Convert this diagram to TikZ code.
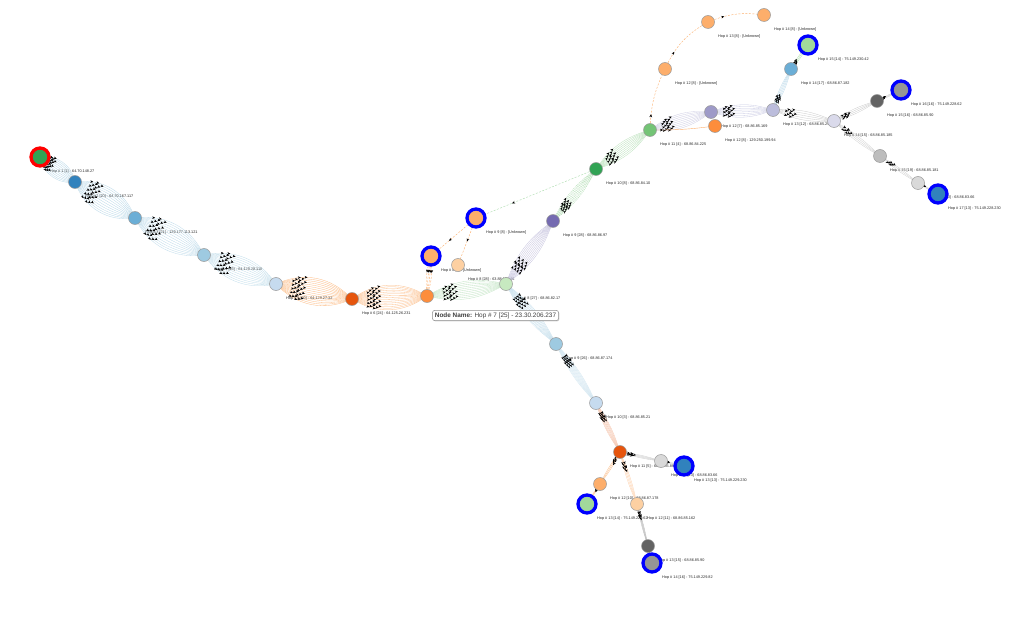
\documentclass[tikz,border=0pt]{standalone}
\usepackage{fontspec}
\setmainfont{Liberation Sans}
\usetikzlibrary{arrows.meta,decorations.markings,shadows}
\pgfdeclarelayer{back}
\pgfdeclarelayer{lab}
\pgfdeclarelayer{bg}
\pgfsetlayers{back,lab,bg,main}
\definecolor{dblue}{HTML}{3182BD}
\definecolor{mblue}{HTML}{6BAED6}
\definecolor{lblue}{HTML}{9ECAE1}
\definecolor{vlblue}{HTML}{C6DBEF}
\definecolor{dorange}{HTML}{E6550D}
\definecolor{morange}{HTML}{FD8D3C}
\definecolor{lorange}{HTML}{FDAE6B}
\definecolor{vlorange}{HTML}{FDD0A2}
\definecolor{dgreen}{HTML}{31A354}
\definecolor{mgreen}{HTML}{74C476}
\definecolor{lgreen}{HTML}{A1D99B}
\definecolor{vlgreen}{HTML}{C7E9C0}
\definecolor{dpurple}{HTML}{756BB1}
\definecolor{mpurple}{HTML}{9E9AC8}
\definecolor{lpurple}{HTML}{BCBDDC}
\definecolor{vlpurple}{HTML}{DADAEB}
\definecolor{dgray}{HTML}{636363}
\definecolor{mgray}{HTML}{969696}
\definecolor{lgray}{HTML}{BDBDBD}
\definecolor{vlgray}{HTML}{D9D9D9}
\definecolor{ringblue}{HTML}{0000FF}
\definecolor{ringred}{HTML}{FF0000}
\tikzset{
  hop/.style={circle, draw=black!40, line width=0.5pt, minimum size=13pt, inner sep=0pt},
  rng/.style={circle, draw=ringblue, line width=3.3pt, minimum size=18pt, inner sep=0pt},
  rngred/.style={circle, draw=ringred, line width=3.3pt, minimum size=18pt, inner sep=0pt},
  lbl/.style={font=\fontsize{3.8}{4.5}\selectfont, text=black!85, anchor=west, inner sep=0pt},
  bund/.style 2 args={line width=0.3pt, postaction={decorate},
    decoration={markings,
      mark=at position #1 with {\arrow{Stealth[length=2.9pt,width=2.5pt,color=black]}},
      mark=at position #2 with {\arrow{Stealth[length=2.9pt,width=2.5pt,color=black]}}}},
  onetip/.style={postaction={decorate},
    decoration={markings,
      mark=at position #1 with {\arrow{Stealth[length=3pt,width=2.6pt,color=black]}}}},
  dsh/.style={line width=0.4pt, dash pattern=on 2pt off 1.5pt},
  tipbox/.style={draw=black!45, fill=white, rounded corners=2.5pt, line width=0.5pt,
    drop shadow={shadow xshift=0.8pt, shadow yshift=-0.8pt, opacity=0.35},
    font=\fontsize{6.4}{7}\selectfont, text=black!75, inner xsep=2.5pt, inner ysep=2.2pt}
}
\newcommand\edgeb[6][]{%
  \foreach \i in {0,...,#6}{%
    \pgfmathsetmacro\ang{-#5+2*#5*\i/#6}%
    \pgfmathsetmacro\pa{0.24+0.035*mod(\i,3)}%
    \pgfmathsetmacro\pb{\pa+0.08}%
    \draw[bund={\pa}{\pb}, draw=#4, #1] (#2.center) to[bend left=\ang] (#3.center);
  }}
\newcommand\hn[5]{%
  \node[#4] (#1) at (#2,#3) {};
  \begin{pgfonlayer}{lab}
  \node[lbl] (#1l) at ({#2+10},{#3+15}) {#5};
  \end{pgfonlayer}}
\begin{document}
\begin{tikzpicture}[x=1pt,y=-1pt]
\begin{pgfonlayer}{back}
\fill[white] (0,0) rectangle (1024,628);
\end{pgfonlayer}
\useasboundingbox (0,0) rectangle (1024,628);
% chain A
\hn{n1}{40}{157}{rngred, fill=dgreen}{Hop \# 1 [1] - 64.70.148.27}
\hn{n2}{75}{182}{hop, fill=dblue}{Hop \# 2 [20] - 64.70.167.117}
\hn{n3}{135}{218}{hop, fill=mblue}{Hop \# 3 [21] - 129.177.113.121}
\hn{n4}{204}{255}{hop, fill=lblue}{Hop \# 4 [23] - 64.129.28.110}
\hn{n5}{276}{284}{hop, fill=vlblue}{Hop \# 5 [20] - 64.129.27.32}
\hn{n6}{352}{299}{hop, fill=dorange}{Hop \# 6 [24] - 64.125.26.231}
\node[hop, fill=morange] (n7) at (427,296) {};
% middle
\hn{u8}{431}{256}{rng, fill=lorange}{Hop \# 8 [8] - [Unknown]}
\hn{u9}{476}{218}{rng, fill=lorange}{Hop \# 9 [8] - [Unknown]}
\hn{g8}{506}{284}{hop, fill=vlgreen}{Hop \# 8 [27] - 68.86.82.17}
\hn{pe8}{458}{265}{hop, fill=vlorange}{Hop \# 8 [28] - 63.88.128.46}
\hn{p9}{553}{221}{hop, fill=dpurple}{Hop \# 9 [28] - 68.86.86.97}
\hn{g10}{596}{169}{hop, fill=dgreen}{Hop \# 10 [8] - 68.86.84.10}
\hn{g11}{650}{130}{hop, fill=mgreen}{Hop \# 11 [4] - 68.86.84.225}
\hn{p12}{711}{112}{hop, fill=mpurple}{Hop \# 12 [7] - 68.86.85.169}
\hn{o12}{715}{126}{hop, fill=morange}{Hop \# 12 [8] - 129.250.199.94}
\hn{l13}{773}{110}{hop, fill=lpurple}{Hop \# 13 [12] - 68.86.85.253}
\hn{b14}{791}{69}{hop, fill=mblue}{Hop \# 14 [17] - 68.86.87.182}
\hn{rg15}{808}{45}{rng, fill=lgreen}{Hop \# 15 [14] - 75.149.230.42}
\hn{v14}{834}{121}{hop, fill=vlpurple}{Hop \# 14 [15] - 68.86.85.185}
\hn{dg15}{877}{101}{hop, fill=dgray}{Hop \# 15 [16] - 68.86.85.90}
\hn{gy16}{901}{90}{rng, fill=mgray}{Hop \# 16 [16] - 75.149.228.62}
\hn{g15}{880}{156}{hop, fill=lgray}{Hop \# 15 [19] - 68.86.85.181}
\hn{vg16}{918}{183}{hop, fill=vlgray}{Hop \# 16 [13] - 68.86.83.66}
\hn{rb17}{938}{194}{rng, fill=dblue}{Hop \# 17 [13] - 75.149.228.230}
\hn{u12}{665}{69}{hop, fill=lorange}{Hop \# 12 [8] - [Unknown]}
\hn{u13}{708}{22}{hop, fill=lorange}{Hop \# 13 [8] - [Unknown]}
\hn{u14}{764}{15}{hop, fill=lorange}{Hop \# 14 [8] - [Unknown]}
% chain C
\hn{c9}{556}{344}{hop, fill=lblue}{Hop \# 9 [26] - 68.86.87.174}
\hn{c10}{596}{403}{hop, fill=vlblue}{Hop \# 10 [3] - 68.86.85.21}
\hn{c11}{620}{452}{hop, fill=dorange}{Hop \# 11 [5] - 68.86.85.89}
\hn{cg12}{661}{461}{hop, fill=vlgray}{Hop \# 12 [13] - 68.86.83.66}
\hn{cr13}{684}{466}{rng, fill=dblue}{Hop \# 13 [13] - 75.149.229.230}
\hn{co12}{600}{484}{hop, fill=lorange}{Hop \# 12 [10] - 68.86.87.178}
\hn{crg13}{587}{504}{rng, fill=lgreen}{Hop \# 13 [14] - 75.149.229.62}
\hn{cp12}{637}{504}{hop, fill=vlorange}{Hop \# 12 [11] - 68.86.85.162}
\hn{cd13}{648}{546}{hop, fill=dgray}{Hop \# 13 [15] - 68.86.85.90}
\hn{cgr14}{652}{563}{rng, fill=mgray}{Hop \# 14 [16] - 75.149.229.82}
% edges
\begin{pgfonlayer}{bg}
\edgeb{n1}{n2}{lblue!75}{45}{10}
\edgeb{n2}{n3}{lblue!75}{40}{12}
\edgeb{n3}{n4}{lblue!70}{36}{12}
\edgeb{n4}{n5}{lblue!65}{34}{12}
\edgeb{n5}{n6}{lorange!85}{36}{14}
\edgeb{n6}{n7}{lorange!80}{34}{14}
\edgeb{n7}{g8}{mgreen!45}{22}{10}
\edgeb{g8}{p9}{mpurple!60}{18}{9}
\edgeb[dash pattern=on 1.2pt off 0.8pt]{p9}{g10}{mgreen!60}{14}{8}
\edgeb{g10}{g11}{mgreen!50}{20}{8}
\edgeb{g11}{p12}{mpurple!50}{22}{8}
\draw[lorange, line width=0.4pt, onetip=0.2] (g11.center) to[bend right=4] (o12.center);
\edgeb{p12}{l13}{lpurple!80}{20}{7}
\edgeb{l13}{b14}{lblue!70}{10}{4}
\edgeb{b14}{rg15}{lgreen!80}{8}{2}
\edgeb{l13}{v14}{lgray!80}{14}{4}
\edgeb{v14}{dg15}{lgray!80}{10}{3}
\edgeb{dg15}{gy16}{lgray!80}{6}{2}
\edgeb{v14}{g15}{lgray!70}{8}{3}
\edgeb{g15}{vg16}{lgray!70}{6}{2}
\edgeb{vg16}{rb17}{lgray!80}{5}{2}
\edgeb{g8}{c9}{lblue!60}{14}{9}
\edgeb{c9}{c10}{lblue!45}{10}{9}
\edgeb{c10}{c11}{dorange!35}{9}{6}
\edgeb{c11}{cg12}{lgray!80}{6}{3}
\edgeb{cg12}{cr13}{lgray!80}{5}{2}
\edgeb{c11}{co12}{lorange!80}{6}{2}
\edgeb{co12}{crg13}{lorange!80}{5}{2}
\edgeb{c11}{cp12}{lorange!60}{6}{3}
\edgeb{cp12}{cd13}{black!30}{4}{3}
\edgeb{cd13}{cgr14}{black!30}{4}{2}
% dashed unknown links
\draw[dsh, mgreen!60, onetip=0.7] (g10.center) -- (u9.center);
\draw[dsh, lorange, onetip=0.6] (u9.center) -- (u8.center);
\draw[dsh, lorange, onetip=0.5] (u9.center) -- (pe8.center);
\foreach \a in {-12,-4,4,12}{\draw[dsh, lorange, onetip=0.42] (u8.center) to[bend left=\a] (n7.center);}
\draw[dsh, lorange, onetip=0.25] (g11.center) to[bend left=12] (u12.center);
\draw[dsh, lorange, onetip=0.3] (u12.center) to[bend left=18] (u13.center);
\draw[dsh, lorange, onetip=0.3] (u13.center) to[bend left=15] (u14.center);
\end{pgfonlayer}
% tooltip
\node[tipbox] (tip) at (495.5,315.5) {\textbf{Node Name:} Hop \# 7 [25] - 23.30.206.237};
\end{tikzpicture}
\end{document}
